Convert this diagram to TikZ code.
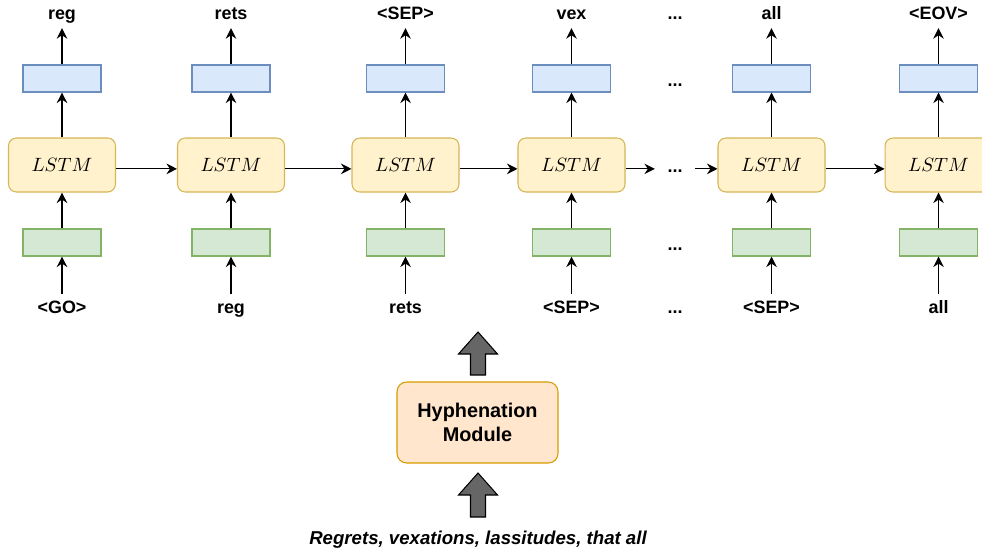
\documentclass[tikz,border=0pt]{standalone}
\usepackage{fontspec}
\setmainfont{Liberation Sans}
\usepackage{amsmath}
\usetikzlibrary{arrows.meta,calc,positioning}

\definecolor{lstmfill}{HTML}{FFF2CC}
\definecolor{lstmdraw}{HTML}{D6B656}
\definecolor{outfill}{HTML}{DAE8FC}
\definecolor{outdraw}{HTML}{6C8EBF}
\definecolor{infill}{HTML}{D5E8D4}
\definecolor{indraw}{HTML}{82B366}
\definecolor{modfill}{HTML}{FFE6CC}
\definecolor{moddraw}{HTML}{D79B00}
\definecolor{fatgray}{HTML}{666666}

\tikzset{
    lstm/.style={draw=lstmdraw,fill=lstmfill,line width=0.6pt,rounded corners=4.5pt,
        minimum width=2.14cm,minimum height=1.08cm,font=\fontsize{11.3}{13}\selectfont},
    outbox/.style={draw=outdraw,fill=outfill,line width=0.6pt,minimum width=1.56cm,minimum height=0.54cm},
    inbox/.style={draw=indraw,fill=infill,line width=0.6pt,minimum width=1.56cm,minimum height=0.54cm},
    word/.style={font=\fontsize{10.2}{12}\selectfont\bfseries,text height=7.5pt,text depth=2pt,inner sep=3pt,anchor=base},
    dots/.style={word,inner xsep=7pt},
    module/.style={draw=moddraw,fill=modfill,line width=0.6pt,rounded corners=5.5pt,align=center,
        minimum width=3.22cm,minimum height=1.62cm,font=\fontsize{11.3}{13.5}\selectfont\bfseries},
    arr/.style={-{Stealth[length=6pt,width=6pt,inset=2pt]},line width=0.6pt},
    fat/.style={draw=black,fill=fatgray,line width=0.6pt,line join=miter}
}

% thick gray arrow: centre x, tip y, base y
\newcommand{\fatarrow}[3]{%
    \draw[fat] (#1-7.5,#3) -- (#1-7.5,#2+22) -- (#1-19.5,#2+22) -- (#1,#2)
        -- (#1+19.5,#2+22) -- (#1+7.5,#2+22) -- (#1+7.5,#3) -- cycle;}

\begin{document}
\begin{tikzpicture}[x=0.02cm,y=-0.02cm]
    \useasboundingbox (0,0) rectangle (982,552);

    % LSTM cells
    \node[lstm] (l1) at (62,165) {$LSTM$};
    \node[lstm] (l2) at (231,165) {$LSTM$};
    \node[lstm] (l3) at (405.5,165) {$LSTM$};
    \node[lstm] (l4) at (571.5,165) {$LSTM$};
    \node[lstm] (l5) at (771.5,165) {$LSTM$};
    \node[lstm] (l6) at (938.5,165) {$LSTM$};

    % output layers
    \node[outbox] (o1) at (62,78.5) {};
    \node[outbox] (o2) at (231,78.5) {};
    \node[outbox] (o3) at (405.5,78.5) {};
    \node[outbox] (o4) at (571.5,78.5) {};
    \node[outbox] (o5) at (771.5,78.5) {};
    \node[outbox] (o6) at (938.5,78.5) {};

    % embeddings
    \node[inbox] (i1) at (62,242.5) {};
    \node[inbox] (i2) at (231,242.5) {};
    \node[inbox] (i3) at (405.5,242.5) {};
    \node[inbox] (i4) at (571.5,242.5) {};
    \node[inbox] (i5) at (771.5,242.5) {};
    \node[inbox] (i6) at (938.5,242.5) {};

    % predicted tokens
    \node[word] (t1) at (62,19) {reg};
    \node[word] (t2) at (231,19) {rets};
    \node[word] (t3) at (405.5,19) {<SEP>};
    \node[word] (t4) at (571.5,19) {vex};
    \node[word] (t5) at (771.5,19) {all};
    \node[word] (t6) at (938.5,19) {<EOV>};

    % input tokens
    \node[word] (b1) at (62,313) {<GO>};
    \node[word] (b2) at (231,313) {reg};
    \node[word] (b3) at (405.5,313) {rets};
    \node[word] (b4) at (571.5,313) {<SEP>};
    \node[word] (b5) at (771.5,313) {<SEP>};
    \node[word] (b6) at (938.5,313) {all};

    % skipped steps
    \node[dots] (d1) at (675,19) {...};
    \node[dots] (d2) at (675,86) {...};
    \node[dots] (d3) at (675,172) {...};
    \node[dots] (d4) at (675,250) {...};
    \node[dots] (d5) at (675,313) {...};

    % vertical flow
    \foreach \c in {1,...,6}{
        \draw[arr] (b\c) -- (i\c);
        \draw[arr] (i\c) -- (l\c);
        \draw[arr] (l\c) -- (o\c);
        \draw[arr] (o\c) -- (t\c);
    }

    % recurrent links, a little below the cell centre
    \draw[arr] ([yshift=-2.2pt]l1.east) -- ([yshift=-2.2pt]l2.west);
    \draw[arr] ([yshift=-2.2pt]l2.east) -- ([yshift=-2.2pt]l3.west);
    \draw[arr] ([yshift=-2.2pt]l3.east) -- ([yshift=-2.2pt]l4.west);
    \draw[arr] ([yshift=-2.2pt]l4.east) -- ([yshift=-2.2pt]l4.east -| d3.west);
    \draw[arr] ([yshift=-2.2pt]l5.west -| d3.east) -- ([yshift=-2.2pt]l5.west);
    \draw[arr] ([yshift=-2.2pt]l5.east) -- ([yshift=-2.2pt]l6.west);

    % hyphenation module
    \node[module] (hm) at (477.5,422.5) {Hyphenation\\Module};
    \fatarrow{478}{332}{375}
    \fatarrow{478}{473}{517}

    \node[font=\fontsize{10.6}{12}\selectfont\bfseries\itshape] (src) at (478,540) {Regrets, vexations, lassitudes, that all};
\end{tikzpicture}
\end{document}
